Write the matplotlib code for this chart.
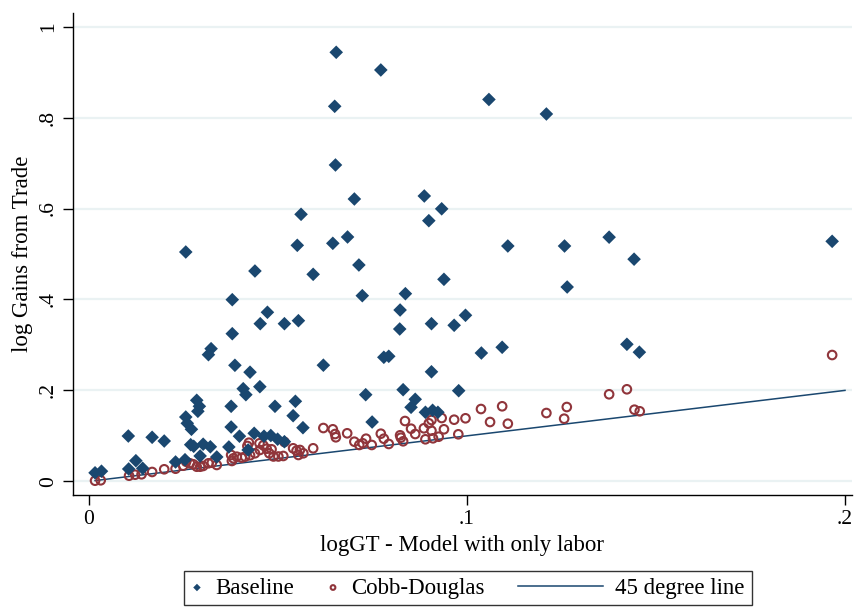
import matplotlib
matplotlib.use("Agg")
import matplotlib.pyplot as plt
from matplotlib.legend_handler import HandlerLine2D
import numpy as np

# Baseline (log GT, model with only labor -> log gains from trade)
base_x = [0.0654, 0.0772, 0.0650, 0.1058, 0.1210, 0.0652, 0.0702, 0.0887, 0.0933, 0.0561,
          0.0899, 0.0684, 0.0645, 0.0551, 0.0256, 0.0714, 0.0439, 0.0593, 0.0939, 0.0723,
          0.0837, 0.0379, 0.0823, 0.0472, 0.0996, 0.0554, 0.0453, 0.0517, 0.0906, 0.0966,
          0.0822, 0.0379, 0.0323, 0.0316, 0.1038, 0.1093, 0.0780, 0.0793, 0.0386, 0.0620,
          0.0426, 0.0906, 0.1108, 0.1258, 0.1376, 0.1442, 0.1265, 0.1423, 0.1456, 0.1966,
          0.0408, 0.0415, 0.0452, 0.0376, 0.0492, 0.0285, 0.0292, 0.0288, 0.0256, 0.0260,
          0.0271, 0.0104, 0.0167, 0.0199, 0.0376, 0.0437, 0.0398, 0.0463, 0.0481, 0.0499,
          0.0269, 0.0277, 0.0302, 0.0321, 0.0370, 0.0294, 0.0338, 0.0421, 0.0124, 0.0229,
          0.0254, 0.0105, 0.0142, 0.0016, 0.0033, 0.0732, 0.0831, 0.0978, 0.0863, 0.0852,
          0.0890, 0.0909, 0.0923, 0.0546, 0.0540, 0.0566, 0.0749, 0.0517]
base_y = [0.9437, 0.9048, 0.8249, 0.8399, 0.8080, 0.6958, 0.6210, 0.6276, 0.5994, 0.5873,
          0.5733, 0.5374, 0.5235, 0.5191, 0.5044, 0.4758, 0.4626, 0.4553, 0.4443, 0.4083,
          0.4127, 0.3995, 0.3768, 0.3718, 0.3652, 0.3533, 0.3467, 0.3467, 0.3467, 0.3432,
          0.3350, 0.3247, 0.2917, 0.2785, 0.2822, 0.2948, 0.2728, 0.2750, 0.2552, 0.2554,
          0.2400, 0.2409, 0.5176, 0.5176, 0.5370, 0.4886, 0.4274, 0.3014, 0.2840, 0.5279,
          0.2037, 0.1905, 0.2081, 0.1650, 0.1650, 0.1782, 0.1650, 0.1540, 0.1414, 0.1276,
          0.1144, 0.0996, 0.0968, 0.0886, 0.1194, 0.1056, 0.0992, 0.0992, 0.1007, 0.0926,
          0.0805, 0.0770, 0.0816, 0.0759, 0.0755, 0.0557, 0.0535, 0.0689, 0.0453, 0.0425,
          0.0475, 0.0271, 0.0286, 0.0187, 0.0222, 0.1905, 0.2015, 0.1993, 0.1804, 0.1628,
          0.1518, 0.1562, 0.1518, 0.1760, 0.1443, 0.1179, 0.1304, 0.0871]

# Cobb-Douglas
cd_x = [0.0016, 0.0031, 0.0106, 0.0122, 0.0139, 0.0167, 0.0199, 0.0229, 0.0249, 0.0257,
        0.0267, 0.0276, 0.0285, 0.0294, 0.0302, 0.0316, 0.0325, 0.0338, 0.0376, 0.0382,
        0.0378, 0.0391, 0.0404, 0.0413, 0.0426, 0.0439, 0.0423, 0.0419, 0.0451, 0.0461,
        0.0452, 0.0470, 0.0477, 0.0483, 0.0488, 0.0501, 0.0514, 0.0517, 0.0540, 0.0549,
        0.0558, 0.0567, 0.0554, 0.0593, 0.0620, 0.0645, 0.0651, 0.0653, 0.0683, 0.0702,
        0.0715, 0.0724, 0.0733, 0.0748, 0.0772, 0.0780, 0.0793, 0.0823, 0.0825, 0.0831,
        0.0836, 0.0852, 0.0863, 0.0886, 0.0899, 0.0906, 0.0906, 0.0890, 0.0910, 0.0925,
        0.0933, 0.0939, 0.0966, 0.0977, 0.0996, 0.1037, 0.1061, 0.1093, 0.1108, 0.1210,
        0.1257, 0.1264, 0.1376, 0.1423, 0.1443, 0.1457, 0.1966]
cd_y = [0.0013, 0.0022, 0.0123, 0.0145, 0.0154, 0.0205, 0.0264, 0.0277, 0.0343, 0.0431,
        0.0396, 0.0374, 0.0321, 0.0321, 0.0337, 0.0396, 0.0409, 0.0359, 0.0579, 0.0506,
        0.0447, 0.0541, 0.0519, 0.0541, 0.0572, 0.0616, 0.0849, 0.0777, 0.0836, 0.0792,
        0.0689, 0.0717, 0.0616, 0.0704, 0.0546, 0.0546, 0.0557, 0.0865, 0.0726, 0.0673,
        0.0689, 0.0616, 0.0579, 0.0726, 0.1172, 0.1144, 0.1040, 0.0968, 0.1056, 0.0871,
        0.0799, 0.0836, 0.0937, 0.0799, 0.1047, 0.0937, 0.0821, 0.1012, 0.0959, 0.0880,
        0.1326, 0.1157, 0.1040, 0.1166, 0.1276, 0.1348, 0.1113, 0.0924, 0.0946, 0.0981,
        0.1392, 0.1144, 0.1355, 0.1034, 0.1386, 0.1590, 0.1304, 0.1650, 0.1267, 0.1502,
        0.1377, 0.1634, 0.1914, 0.2024, 0.1575, 0.1540, 0.2778]

line_x = [0.0016, 0.2]
line_y = [0.0016, 0.2]

x_ticks = [0, 0.1, 0.2]
x_ticklabels = ["0", ".1", ".2"]
y_ticks = [0, 0.2, 0.4, 0.6, 0.8, 1.0]
y_ticklabels = ["0", ".2", ".4", ".6", ".8", "1"]

plt.rcParams['font.family'] = ['Liberation Serif', 'DejaVu Serif']

navy = '#1a476f'
maroon = '#90353b'

W, H = 857, 609
fig = plt.figure(figsize=(W / 100, H / 100), dpi=100)
ax = fig.add_axes([73 / W, 1 - 495 / H, (852 - 73) / W, (495 - 13) / H])

ax.set_xlim((73 - 89) / 3780, (852 - 89) / 3780)
ax.set_ylim((481.3 - 495) / 454.6, (481.3 - 13) / 454.6)

for yt in y_ticks:
    ax.axhline(yt, color='#eaf2f3', lw=1.6, zorder=0)

ax.plot(line_x, line_y, color=navy, lw=1.1, zorder=2, label='45 degree line')
ax.scatter(cd_x, cd_y, s=38, facecolors='none', edgecolors=maroon, linewidths=1.5,
           zorder=3, label='Cobb-Douglas')
ax.scatter(base_x, base_y, s=48, marker='D', color=navy, edgecolors='none',
           zorder=4, label='Baseline')

for side in ['top', 'right']:
    ax.spines[side].set_visible(False)
for side in ['left', 'bottom']:
    ax.spines[side].set_linewidth(1.0)
    ax.spines[side].set_color('black')

ax.set_xticks(x_ticks)
ax.set_xticklabels(x_ticklabels)
ax.set_yticks(y_ticks)
ax.set_yticklabels(y_ticklabels, rotation=90, va='center')
ax.tick_params(axis='both', length=7, width=1.0, labelsize=15.5, pad=4)

ax.set_xlabel('logGT - Model with only labor', fontsize=16.5, labelpad=4)
ax.set_ylabel('log Gains from Trade', fontsize=16.5, labelpad=4)


class LongLineHandler(HandlerLine2D):
    def legend_artist(self, legend, orig_handle, fontsize, handlebox):
        handlebox.width = 61  # points (~85 px)
        return super().legend_artist(legend, orig_handle, fontsize, handlebox)


h, l = ax.get_legend_handles_labels()
order = [2, 1, 0]
handles = [h[i] for i in order]
leg = fig.legend(handles, [l[i] for i in order], loc='center',
                 bbox_to_anchor=(468 / W, 1 - 588 / H), ncol=3, frameon=True,
                 fancybox=False, fontsize=16.5, handlelength=0.5, columnspacing=1.45,
                 handletextpad=0.55, borderpad=0.3, borderaxespad=0, markerscale=0.55,
                 handler_map={h[0]: LongLineHandler()})
leg.get_frame().set_edgecolor('black')
leg.get_frame().set_linewidth(1.0)

fig.savefig('out.png', dpi=100)
